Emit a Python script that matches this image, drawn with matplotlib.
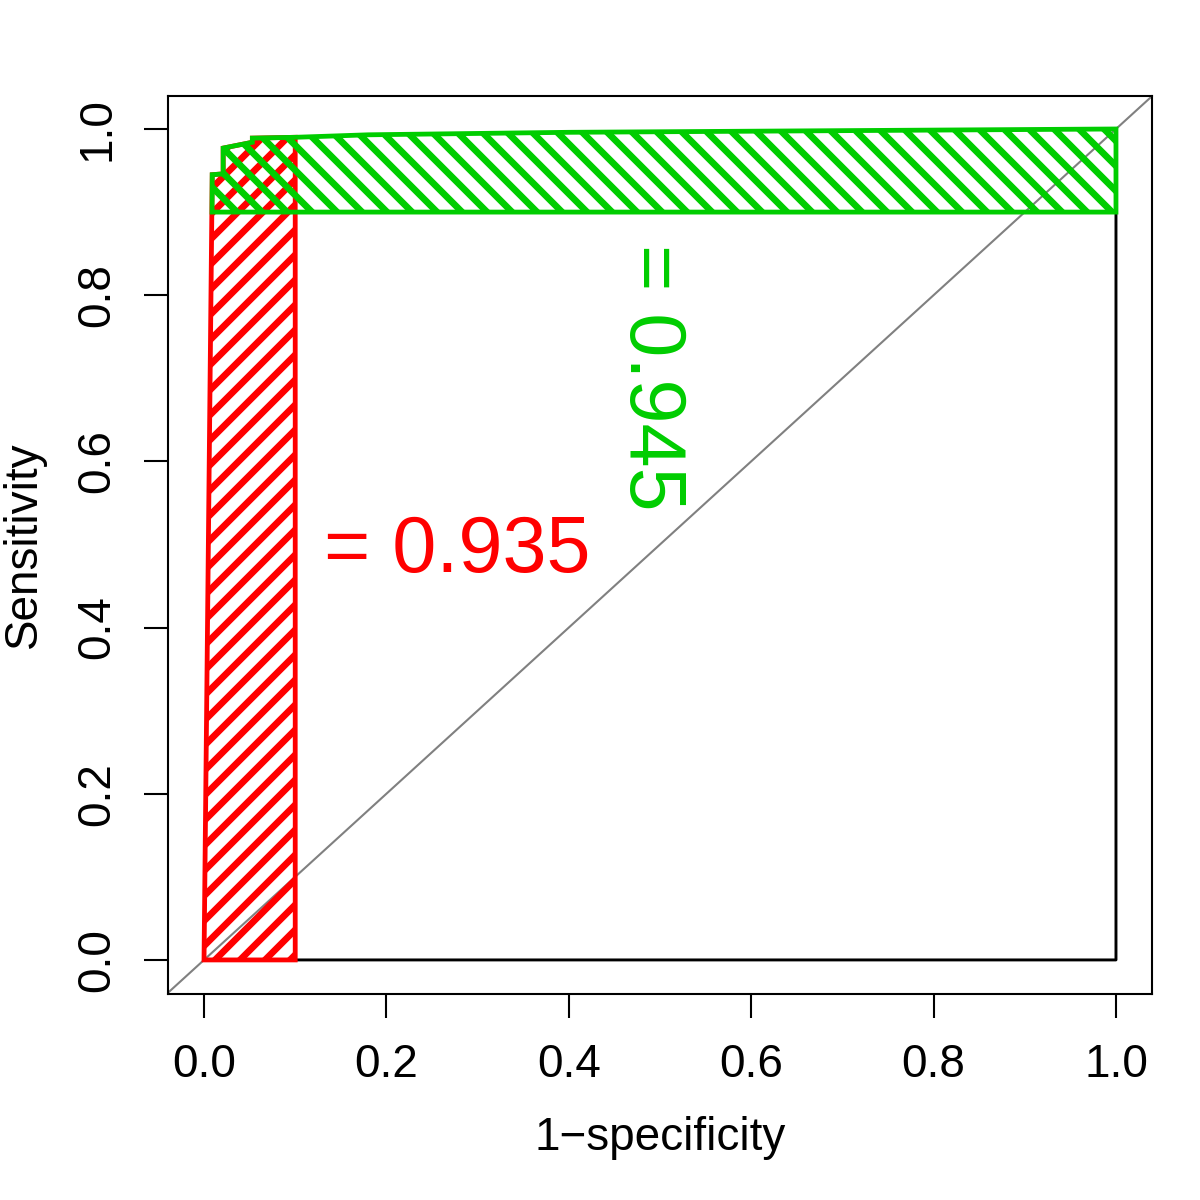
import matplotlib
matplotlib.use("Agg")
import matplotlib.pyplot as plt
from matplotlib.patches import Polygon

plt.rcParams['font.family'] = ['Liberation Sans', 'DejaVu Sans']
plt.rcParams['hatch.linewidth'] = 3.2

# ROC curve (1-specificity, sensitivity)
fpr = [0.0, 0.009, 0.021, 0.021, 0.053, 0.053, 0.10, 0.18, 0.40, 0.70, 1.0]
tpr = [0.0, 0.945, 0.946, 0.977, 0.984, 0.989, 0.990, 0.993, 0.996, 0.998, 1.0]

# partial AUC regions
red_fpr_max = 0.10      # specificity 0.9-1
green_tpr_min = 0.90    # sensitivity 0.9-1
red_label = "= 0.935"
green_label = "= 0.945"

xticks = [0.0, 0.2, 0.4, 0.6, 0.8, 1.0]
yticks = [0.0, 0.2, 0.4, 0.6, 0.8, 1.0]
tick_labels = ["0.0", "0.2", "0.4", "0.6", "0.8", "1.0"]

RED = "#FF0000"
GREEN = "#00CD00"

fig = plt.figure(figsize=(8, 8), dpi=150)
ax = fig.add_axes([0.14, 1 - 994 / 1200, (1152 - 168) / 1200, (994 - 96) / 1200])
ax.set_xlim(-0.0395, 1.0395)
ax.set_ylim(-0.041, 1.0397)

# diagonal
ax.axline((0, 0), (1, 1), color="#808080", lw=1.0, zorder=1)

# black ROC curve (closed path as drawn)
bx = fpr + [1.0, 0.0]
by = tpr + [0.0, 0.0]
ax.plot(bx, by, color="black", lw=1.4, zorder=2)

# red polygon: area under curve for fpr in [0, red_fpr_max]
rpts = [(x, y) for x, y in zip(fpr, tpr) if x <= red_fpr_max]
rpts = rpts + [(red_fpr_max, 0.0)]
ax.add_patch(Polygon(rpts, closed=True, fill=False, edgecolor=RED, hatch='//',
                     lw=2.3, zorder=3))

# green polygon: area for tpr in [green_tpr_min, 1]
gpts = [(0.0088, green_tpr_min)] + [(x, y) for x, y in zip(fpr, tpr) if y >= green_tpr_min]
gpts = gpts + [(1.0, green_tpr_min)]
ax.add_patch(Polygon(gpts, closed=True, fill=False, edgecolor=GREEN, hatch='\\\\',
                     lw=2.3, zorder=4))

ax.text(0.278, 0.467, red_label, color=RED, fontsize=38, ha='center', va='baseline')
ax.text(0.467, 0.7016, green_label, color=GREEN, fontsize=38, ha='center', va='baseline',
        rotation=-90, rotation_mode='anchor')

ax.set_xticks(xticks)
ax.set_xticklabels(tick_labels)
ax.set_yticks(yticks)
ax.set_yticklabels(tick_labels, rotation=90, va='center')
ax.tick_params(axis='both', length=11.5, width=1.0, direction='out', labelsize=22, pad=12)
for s in ax.spines.values():
    s.set_linewidth(1.0)

ax.set_xlabel("1\u2212specificity", fontsize=22, labelpad=14)
ax.set_ylabel("Sensitivity", fontsize=22, labelpad=14)

fig.savefig("out.png", dpi=150, facecolor="white")
